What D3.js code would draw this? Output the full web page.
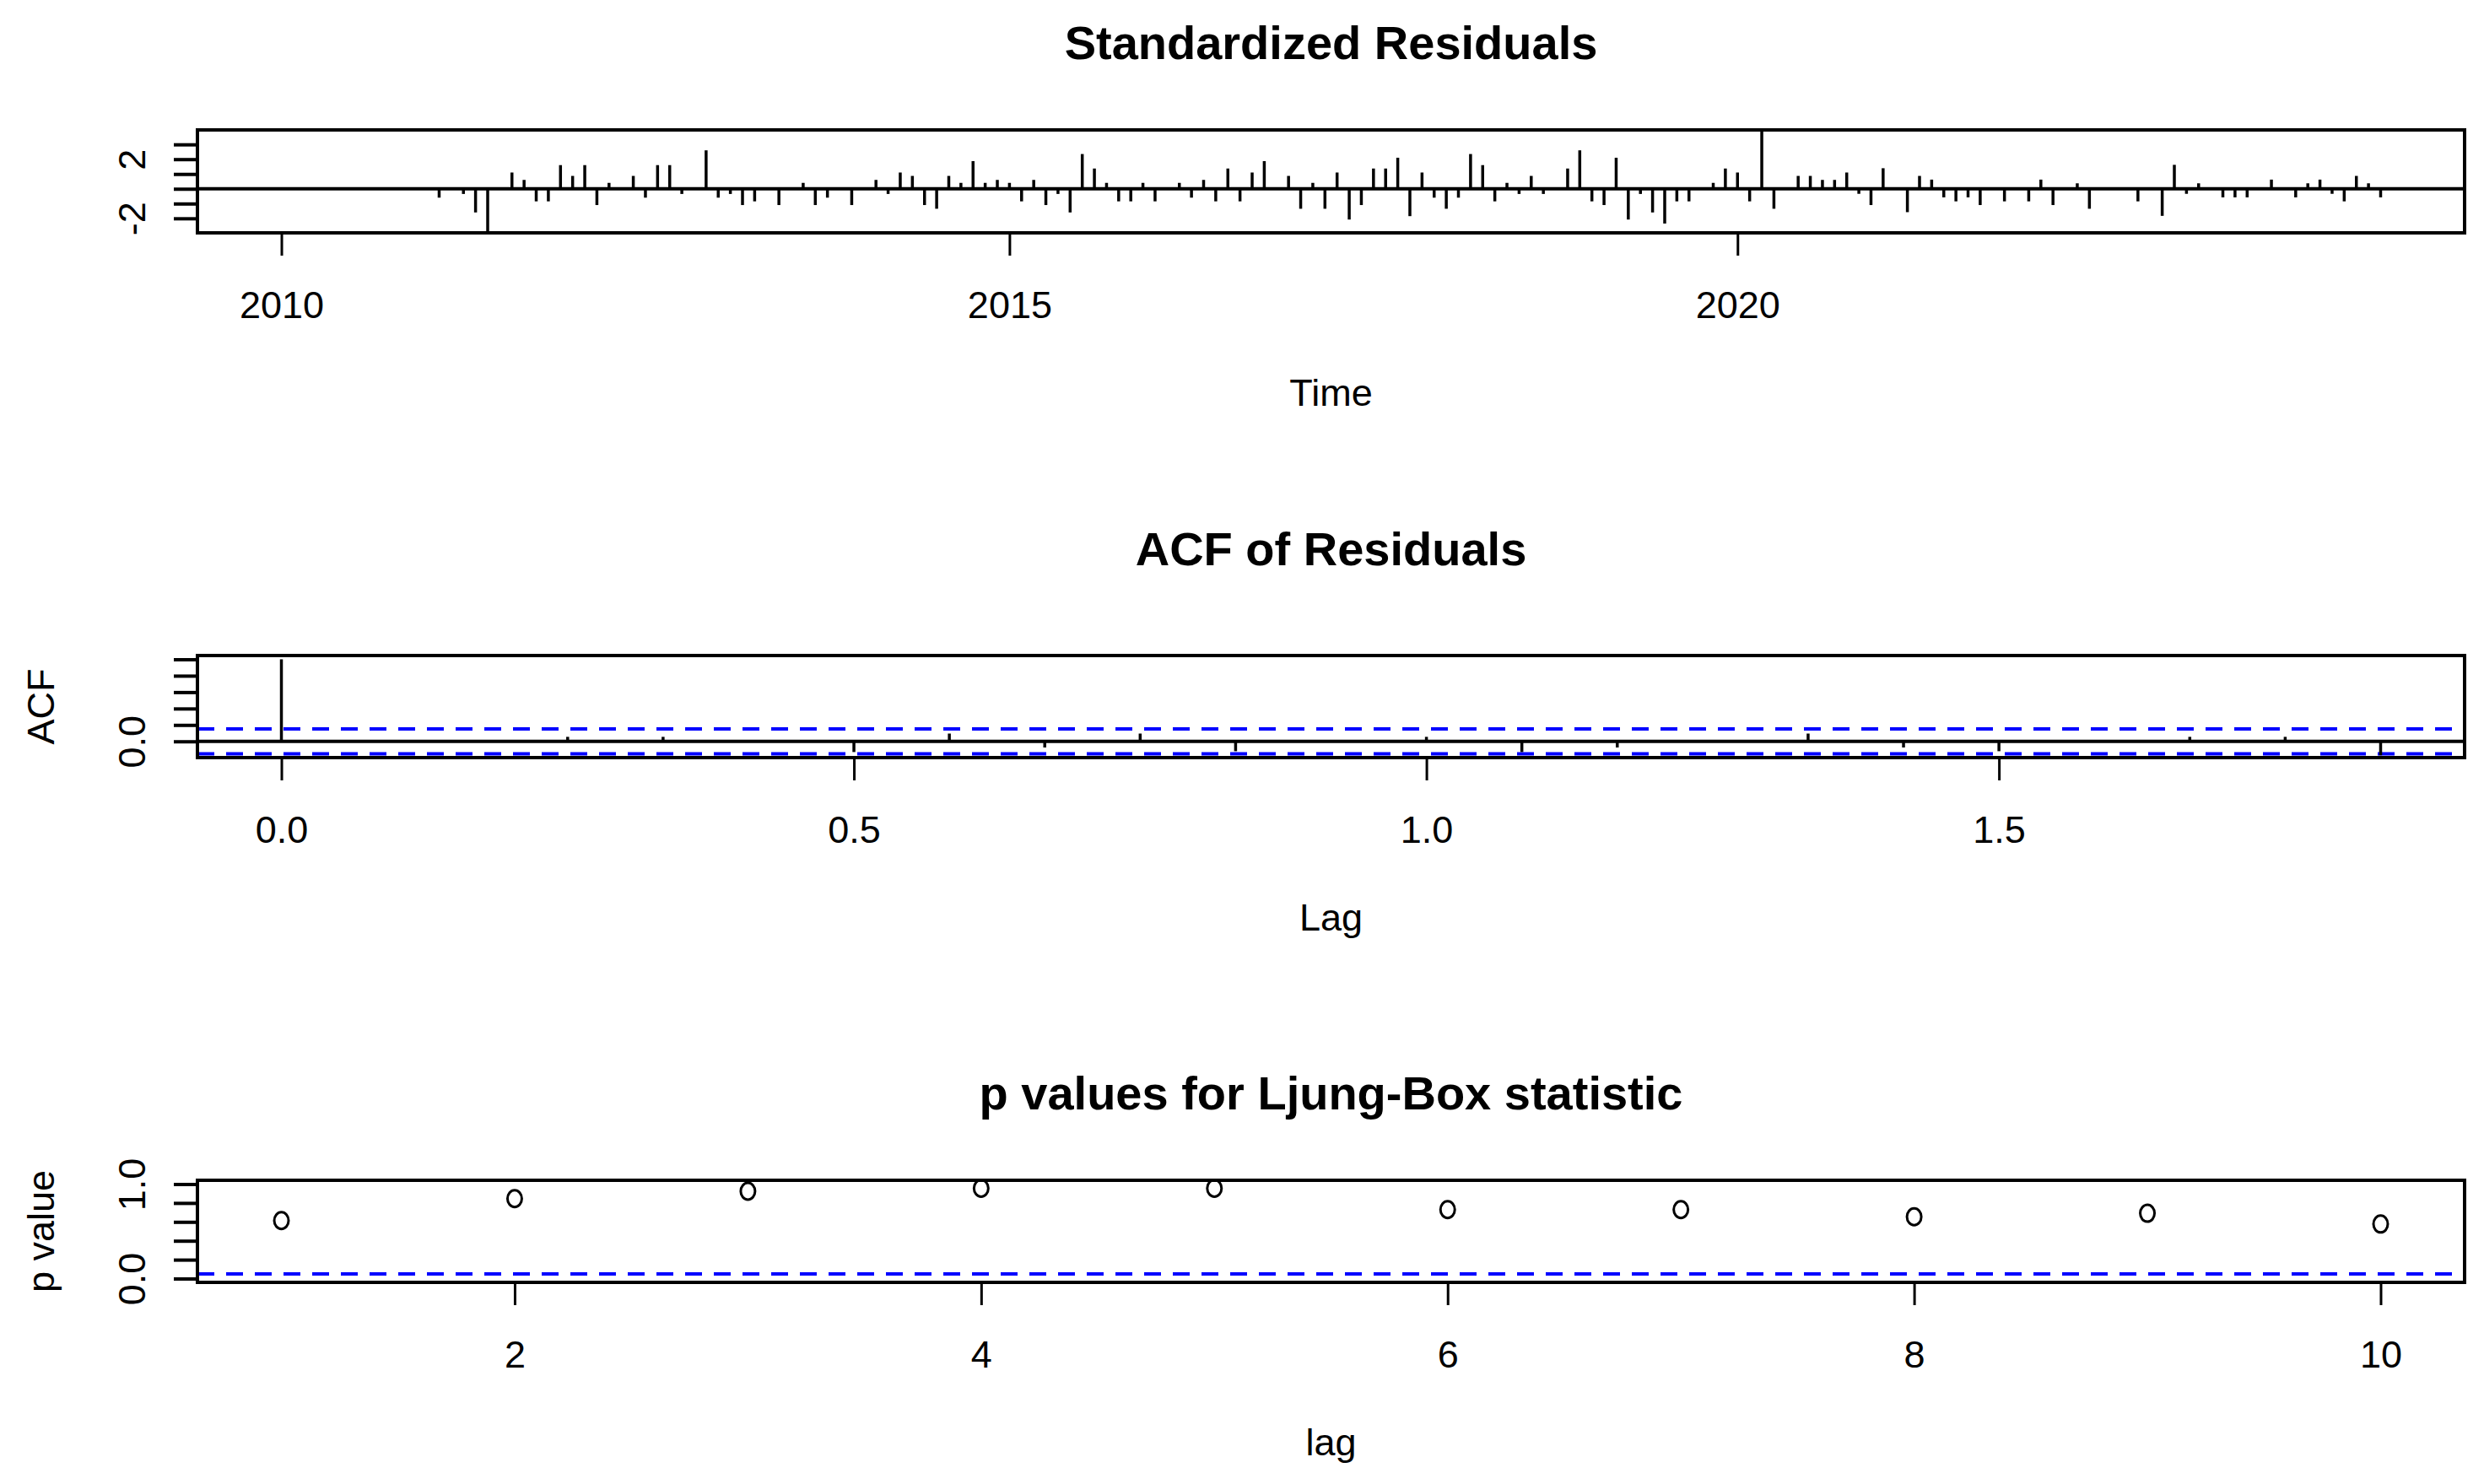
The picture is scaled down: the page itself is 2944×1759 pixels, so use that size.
<!DOCTYPE html>
<html>
<head>
<meta charset="utf-8">
<script src="https://cdn.jsdelivr.net/npm/d3@7"></script>
<style>
  html, body { margin: 0; padding: 0; background: #fff; }
  svg text { font-family: "Liberation Sans", Arial, sans-serif; fill: #000; }
</style>
</head>
<body>
<svg id="chart" width="2944" height="1759"></svg>
<script>
// standardized residuals, monthly, Jan 2010 .. Jun 2024
var startYear = 2010;
var freq = 12;
var stdResiduals = [
  0, 0, 0, 0, 0, 0, 0, 0, 0, 0, 0, 0,
  0, -0.6, 0, -0.35, -1.6, -2.9, 0, 1.1, 0.6, -0.85, -0.85, 1.6,
  0.87, 1.6, -1.1, 0.4, 0, 0.87, -0.6, 1.6, 1.6, -0.35, 0, 2.6,
  -0.6, -0.35, -1.1, -0.85, 0, -1.1, 0, 0.4, -1.1, -0.6, 0, -1.1,
  0, 0.6, -0.35, 1.1, 0.87, -1.1, -1.35, 0.87, 0.4, 1.87, 0.4, 0.6,
  0.4, -0.85, 0.6, -1.1, -0.35, -1.6, 2.35, 1.37, 0.4, -0.85, -0.85, 0.4,
  -0.85, 0, 0.4, -0.6, 0.6, -0.85, 1.37, -0.85, 1.1, 1.87, 0, 0.87,
  -1.35, 0.4, -1.35, 1.1, -2.08, -1.1, 1.37, 1.37, 2.1, -1.85, 1.1, -0.6,
  -1.35, -0.6, 2.35, 1.6, -0.85, 0.4, -0.35, 0.87, -0.35, 0, 1.37, 2.6,
  -0.85, -1.1, 2.1, -2.08, -0.35, -1.6, -2.35, -0.85, -0.85, 0, 0.4, 1.37,
  1.1, -0.85, 3.9, -1.35, 0, 0.87, 0.87, 0.6, 0.6, 1.1, -0.34, -1.1,
  1.39, 0, -1.58, 0.87, 0.62, -0.58, -0.85, -0.58, -1.1, 0, -0.85, 0,
  -0.85, 0.62, -1.1, 0, 0.37, -1.35, 0, 0, 0, -0.85, 0, -1.83,
  1.62, -0.34, 0.37, 0, -0.58, -0.58, -0.58, 0, 0.62, 0, -0.58, 0.37,
  0.62, -0.34, -0.85, 0.87, 0.37, -0.58
];
var residRange = [-2.98, 3.98];
var residTicks = [-2, -1, 0, 1, 2, 3];
var residLabels = [2, -2];
var timeTicks = [2010, 2015, 2020];

// acf of residuals, lag 0..22 months
var acfValues = [1.0, 0, 0, 0.055, 0.055, 0, -0.13, 0.095, -0.075, 0.095, -0.12, 0,
                 0.055, -0.13, -0.075, 0, 0.095, -0.075, -0.12, 0, 0.055, 0.055, -0.17];
var acfLimit = 0.152;
var acfTicks = [0, 0.2, 0.4, 0.6, 0.8, 1.0];
var acfLabels = [0];
var lagTicks = [0, 0.5, 1.0, 1.5];

// ljung-box p values
var ljungLags = [1, 2, 3, 4, 5, 6, 7, 8, 9, 10];
var pValues = [0.614, 0.846, 0.924, 0.955, 0.955, 0.730, 0.730, 0.654, 0.691, 0.577];
var pTicks = [0, 0.2, 0.4, 0.6, 0.8, 1.0];
var pLabels = [0, 1];
var pLagTicks = [2, 4, 6, 8, 10];

var svg = d3.select('#chart');
var left = 234, right = 2921;
var midX = (left + right) / 2;

// R style 4% range extension
function rExtend(ext){
    var d = (ext[1] - ext[0]) * 0.04;
    return [ext[0] - d, ext[1] + d];
}

function drawPanel(p){
    var g = svg.append('g');
    var x = d3.scaleLinear().domain(p.xDomain).range([left, right]);
    var y = d3.scaleLinear().domain(p.yDomain).range([p.bottom, p.top]);

    var xAxis = g.append('g').attr('transform', `translate(0,${p.bottom})`)
        .call(d3.axisBottom(x).tickValues(p.xTicks).tickSize(27).tickFormat(p.xFormat));
    xAxis.select('.domain').remove();
    xAxis.attr('font-size', 45).attr('font-family', null);
    xAxis.selectAll('.tick line').attr('stroke', '#000').attr('stroke-width', 3);
    xAxis.selectAll('.tick text').attr('y', 101).attr('dy', 0);

    var yAxis = g.append('g').attr('transform', `translate(${left},0)`)
        .call(d3.axisLeft(y).tickValues(p.yTicks).tickSize(28)
            .tickFormat(function(d){ return p.yLabels.indexOf(d) >= 0 ? p.yFormat(d) : ''; }));
    yAxis.select('.domain').remove();
    yAxis.attr('font-size', 45).attr('font-family', null);
    yAxis.selectAll('.tick line').attr('stroke', '#000').attr('stroke-width', 4);
    yAxis.selectAll('.tick text')
        .attr('x', 0).attr('y', 0).attr('dy', 0)
        .attr('text-anchor', 'middle')
        .attr('transform', 'translate(-62,0) rotate(-90)');

    p.marks(g, x, y);

    g.append('rect')
        .attr('x', left).attr('y', p.top)
        .attr('width', right - left).attr('height', p.bottom - p.top)
        .attr('fill', 'none').attr('stroke', '#000').attr('stroke-width', 4);

    g.append('text').attr('x', midX).attr('y', p.titleY)
        .attr('text-anchor', 'middle').attr('font-size', 56).attr('font-weight', 'bold')
        .text(p.title);
    g.append('text').attr('x', midX).attr('y', p.bottom + 205)
        .attr('text-anchor', 'middle').attr('font-size', 45)
        .text(p.xLabel);
    if(p.yLabel){
        g.append('text')
            .attr('transform', `translate(64,${(p.top + p.bottom) / 2}) rotate(-90)`)
            .attr('text-anchor', 'middle').attr('font-size', 45)
            .text(p.yLabel);
    }
}

function hline(g, x, yv, dashed){
    var l = g.append('line')
        .attr('x1', x.range()[0]).attr('x2', x.range()[1])
        .attr('y1', yv).attr('y2', yv);
    if(dashed){
        l.attr('stroke', '#0000ff').attr('stroke-width', 4).attr('stroke-dasharray', '20,14');
    } else {
        l.attr('stroke', '#000').attr('stroke-width', 4);
    }
}

var timeEnd = startYear + (stdResiduals.length - 1) / freq;

drawPanel({
    top: 154, bottom: 276, titleY: 70,
    title: 'Standardized Residuals', xLabel: 'Time', yLabel: null,
    xDomain: rExtend([startYear, timeEnd]), yDomain: residRange,
    xTicks: timeTicks, xFormat: d3.format('d'),
    yTicks: residTicks, yLabels: residLabels, yFormat: function(d){ return String(d); },
    marks: function(g, x, y){
        hline(g, x, y(0), false);
        g.selectAll('.spike').data(stdResiduals).enter().append('line')
            .attr('class', 'spike')
            .attr('x1', function(d, i){ return x(startYear + i / freq); })
            .attr('x2', function(d, i){ return x(startYear + i / freq); })
            .attr('y1', y(0)).attr('y2', function(d){ return y(d); })
            .attr('stroke', '#000').attr('stroke-width', 3.5);
    }
});

drawPanel({
    top: 777, bottom: 898, titleY: 670,
    title: 'ACF of Residuals', xLabel: 'Lag', yLabel: 'ACF',
    xDomain: rExtend([0, (acfValues.length - 1) / freq]), yDomain: rExtend([-acfLimit, 1]),
    xTicks: lagTicks, xFormat: d3.format('.1f'),
    yTicks: acfTicks, yLabels: acfLabels, yFormat: d3.format('.1f'),
    marks: function(g, x, y){
        hline(g, x, y(0), false);
        hline(g, x, y(acfLimit), true);
        hline(g, x, y(-acfLimit), true);
        g.selectAll('.acf').data(acfValues).enter().append('line')
            .attr('class', 'acf')
            .attr('x1', function(d, i){ return x(i / freq); })
            .attr('x2', function(d, i){ return x(i / freq); })
            .attr('y1', y(0)).attr('y2', function(d){ return y(d); })
            .attr('stroke', '#000').attr('stroke-width', 3.5);
    }
});

drawPanel({
    top: 1399, bottom: 1520, titleY: 1315,
    title: 'p values for Ljung-Box statistic', xLabel: 'lag', yLabel: 'p value',
    xDomain: rExtend(d3.extent(ljungLags)), yDomain: rExtend([0, 1]),
    xTicks: pLagTicks, xFormat: d3.format('d'),
    yTicks: pTicks, yLabels: pLabels, yFormat: d3.format('.1f'),
    marks: function(g, x, y){
        hline(g, x, y(0.05), true);
        g.selectAll('.pv').data(pValues).enter().append('ellipse')
            .attr('class', 'pv')
            .attr('cx', function(d, i){ return x(ljungLags[i]); })
            .attr('cy', function(d){ return y(d); })
            .attr('rx', 8.5).attr('ry', 10)
            .attr('fill', 'none').attr('stroke', '#000').attr('stroke-width', 3);
    }
});
</script>
</body>
</html>
